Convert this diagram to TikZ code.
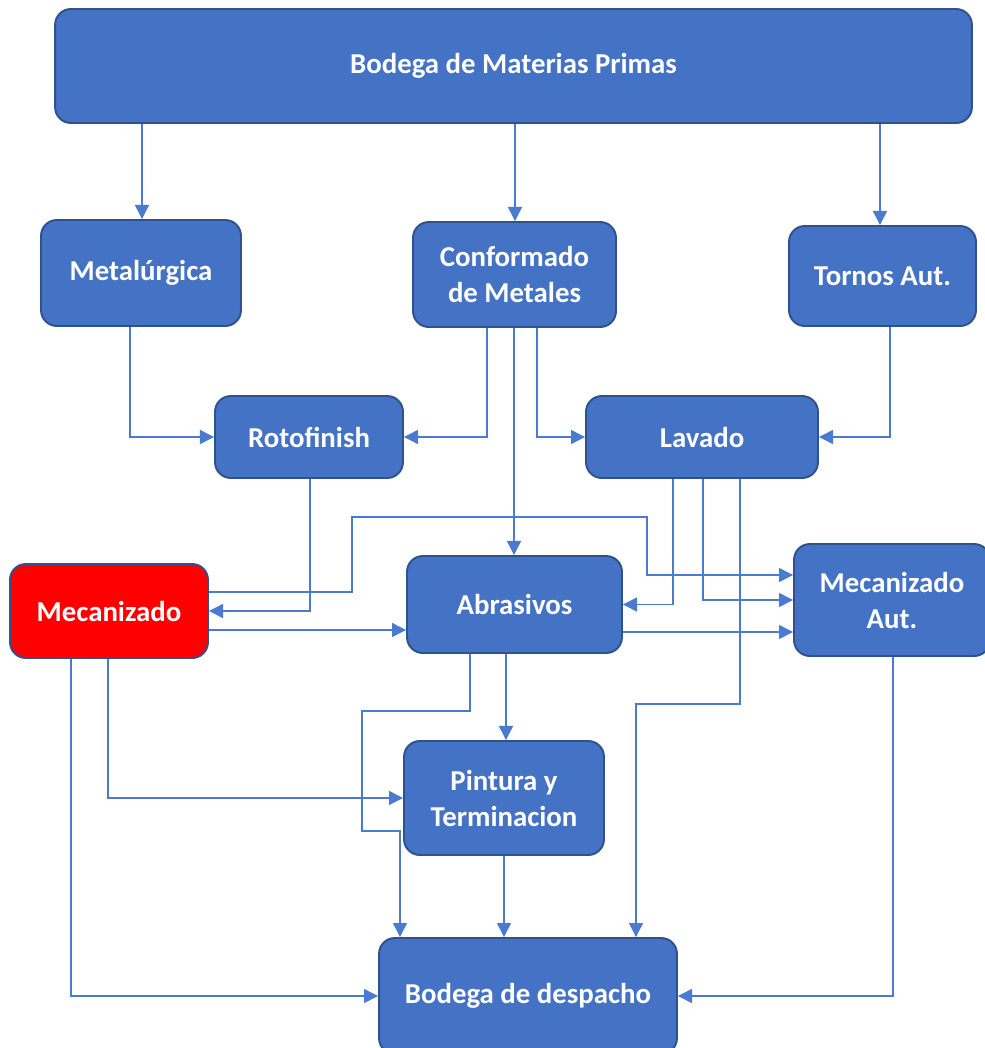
\documentclass[tikz,border=0pt]{standalone}
\usepackage{fontspec}
\setmainfont{Carlito}
\usetikzlibrary{arrows.meta}
\definecolor{boxblue}{HTML}{4472C4}
\definecolor{boxedge}{HTML}{2F528F}
\definecolor{flowblue}{HTML}{4A7BD0}
\tikzset{
	area/.style={draw=boxedge, line width=1.1pt, fill=boxblue, rounded corners=9pt, text=white, font=\fontsize{16.4}{20.5}\selectfont\bfseries, align=center, inner sep=0pt},
	flow/.style={draw=flowblue, line width=0.7pt, -{Triangle[length=8pt,width=8pt]}}
}
\begin{document}
\begin{tikzpicture}[x=0.02cm, y=-0.02cm]
		\useasboundingbox (0,0) rectangle (984,1048);
		\node (mp) at (513.5,66) [area, minimum width=18.34cm, minimum height=2.28cm] {Bodega de Materias Primas};
		\node (metal) at (141,273) [area, minimum width=4cm, minimum height=2.12cm] {Metalúrgica};
		\node (conf) at (514.5,274.5) [area, minimum width=4.06cm, minimum height=2.1cm] {Conformado\\de Metales};
		\node (tornos) at (882.5,276) [area, minimum width=3.74cm, minimum height=2cm] {Tornos Aut.};
		\node (rot) at (309,437) [area, minimum width=3.76cm, minimum height=1.64cm] {Rotofinish};
		\node (lav) at (702,437) [area, minimum width=4.64cm, minimum height=1.64cm] {Lavado};
		\node (mec) at (109,611) [area, fill=red, minimum width=3.96cm, minimum height=1.88cm] {Mecanizado};
		\node (abr) at (514.5,604.5) [area, minimum width=4.3cm, minimum height=1.94cm] {Abrasivos};
		\node (mecaut) at (892,600) [area, minimum width=3.92cm, minimum height=2.24cm] {Mecanizado\\Aut.};
		\node (pint) at (504,798) [area, minimum width=4cm, minimum height=2.28cm] {Pintura y\\Terminacion};
		\node (desp) at (528,996) [area, minimum width=5.96cm, minimum height=2.32cm] {Bodega de despacho};
		\draw [flow] (142,0 |- mp.south) -- (142,0 |- metal.north);
		\draw [flow] (515,0 |- mp.south) -- (515,0 |- conf.north);
		\draw [flow] (880,0 |- mp.south) -- (880,0 |- tornos.north);
		\draw [flow] (130,0 |- metal.south) |- (rot.west);
		\draw [flow] (487,0 |- conf.south) |- (rot.east);
		\draw [flow] (537,0 |- conf.south) |- (lav.west);
		\draw [flow] (514,0 |- conf.south) -- (514,0 |- abr.north);
		\draw [flow] (890,0 |- tornos.south) |- (lav.east);
		\draw [flow] (310,0 |- rot.south) |- (mec.east);
		\draw [flow] (mec.east |- 0,592) -| (352,517) -| (647,575) -- (mecaut.west |- 0,575);
		\draw [flow] (mec.east |- 0,630) -- (abr.west |- 0,630);
		\draw [flow] (673,0 |- lav.south) |- (abr.east);
		\draw [flow] (703,0 |- lav.south) |- (mecaut.west);
		\draw [flow] (740,0 |- lav.south) |- (636,704) -- (636,0 |- desp.north);
		\draw [flow] (abr.east |- 0,632) -- (mecaut.west |- 0,632);
		\draw [flow] (470,0 |- abr.south) |- (362,711) |- (400,831) -- (400,0 |- desp.north);
		\draw [flow] (506,0 |- abr.south) -- (506,0 |- pint.north);
		\draw [flow] (108,0 |- mec.south) |- (pint.west);
		\draw [flow] (71,0 |- mec.south) |- (desp.west);
		\draw [flow] (504,0 |- pint.south) -- (504,0 |- desp.north);
		\draw [flow] (893,0 |- mecaut.south) |- (desp.east);
	\end{tikzpicture}
\end{document}
